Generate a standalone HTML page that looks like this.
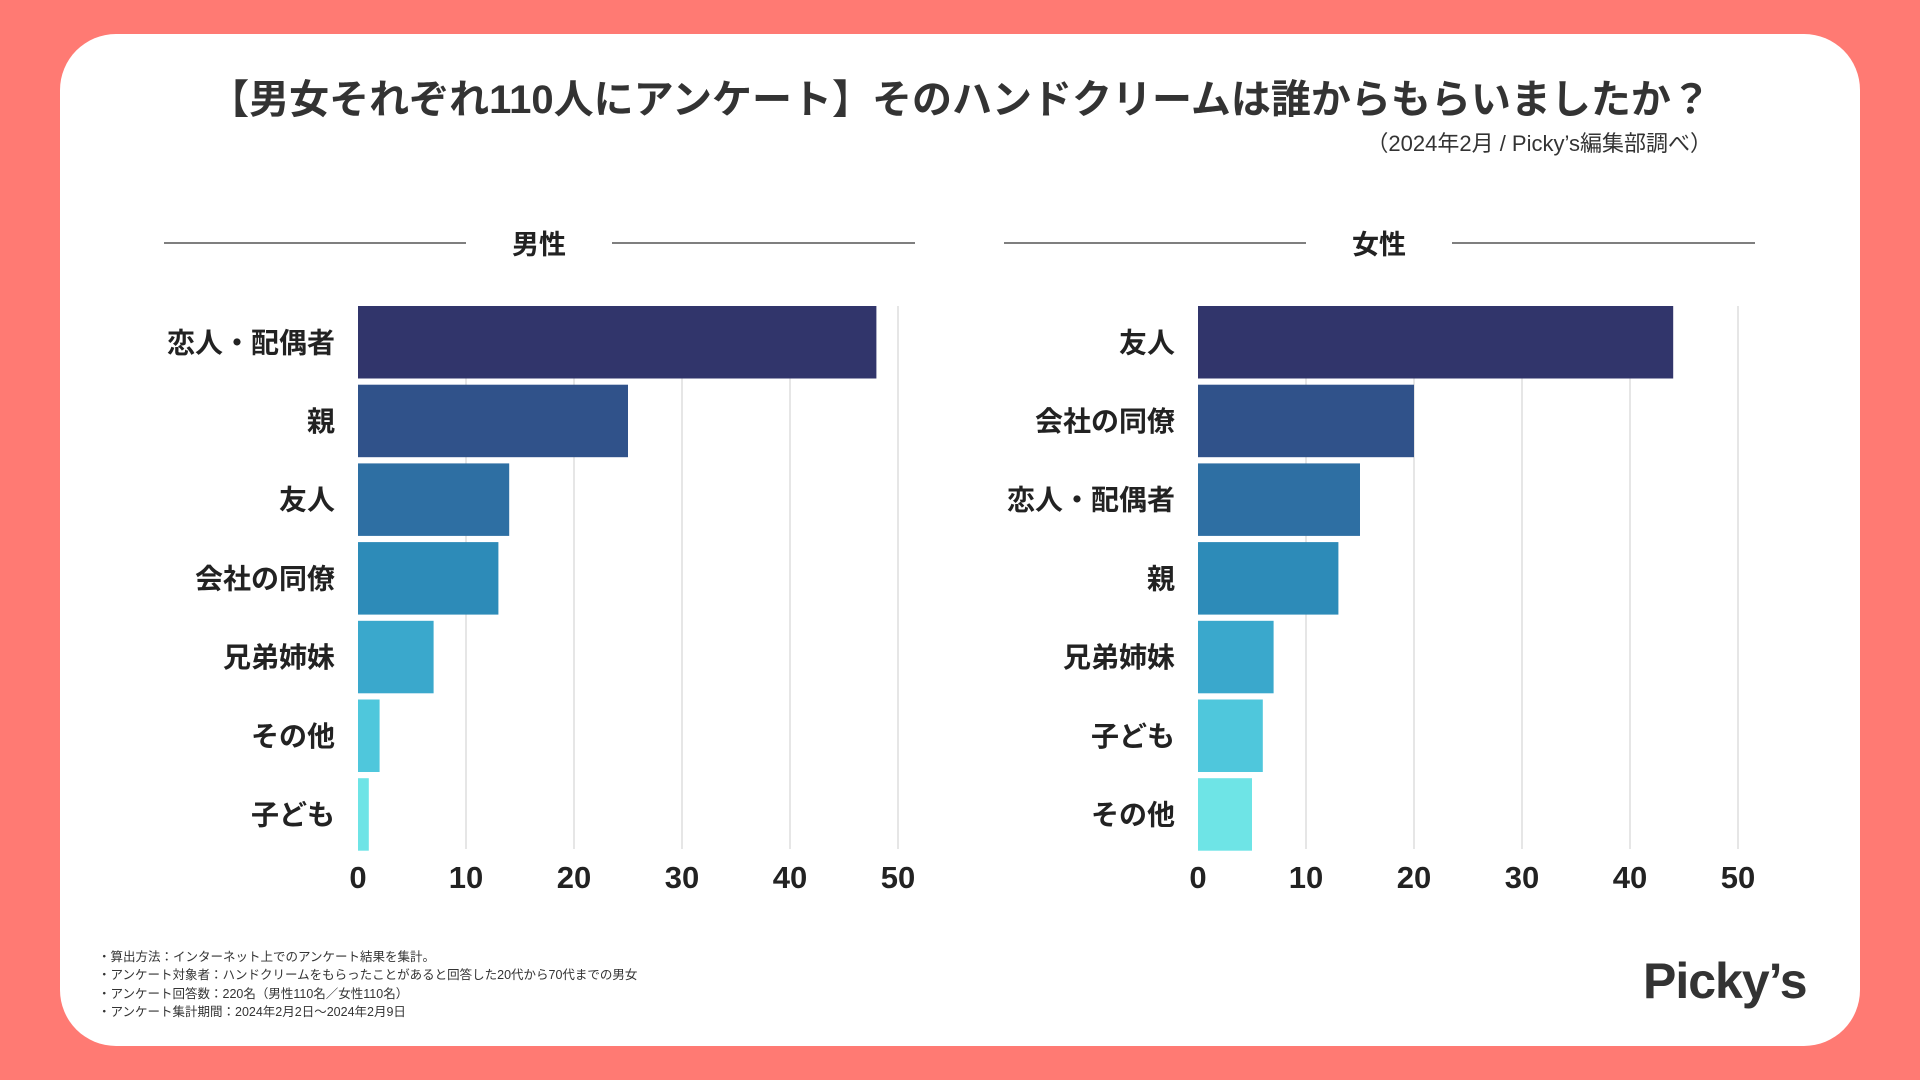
<!DOCTYPE html>
<html><head><meta charset="utf-8">
<style>
body{margin:0;width:1920px;height:1080px;background:#ff7a73;overflow:hidden;font-family:"Liberation Sans","Noto Sans CJK JP",sans-serif;color:#333;}
#card{position:absolute;left:60px;top:34px;width:1800px;height:1012px;background:#fff;border-radius:56px;}
.abs{position:absolute;}
</style></head>
<body>
<div id="card"></div>
<div class="abs" style="left:0;width:1920px;top:67px;text-align:center;font-size:40px;font-weight:bold;">【男女それぞれ110人にアンケート】そのハンドクリームは誰からもらいましたか？</div>
<div class="abs" style="right:208px;top:126px;font-size:22px;">（2024年2月 / Picky’s編集部調べ）</div>
<svg class="abs" style="left:0;top:0" width="1920" height="1080" id="chart"></svg>
<div class="abs" style="left:98px;top:948px;font-size:12.5px;line-height:18.3px;">
・算出方法：インターネット上でのアンケート結果を集計。<br>
・アンケート対象者：ハンドクリームをもらったことがあると回答した20代から70代までの男女<br>
・アンケート回答数：220名（男性110名／女性110名）<br>
・アンケート集計期間：2024年2月2日〜2024年2月9日</div>
<div class="abs" style="left:1643px;top:952px;font-size:50px;font-weight:bold;color:#333;letter-spacing:-1px;">Picky’s</div>
<script>
const maleCategories=["恋人・配偶者","親","友人","会社の同僚","兄弟姉妹","その他","子ども"];
const maleValues=[48,25,14,13,7,2,1];
const femaleCategories=["友人","会社の同僚","恋人・配偶者","親","兄弟姉妹","子ども","その他"];
const femaleValues=[44,20,15,13,7,6,5];
const ticks=[0,10,20,30,40,50];
const colors=["#31356b","#30528a","#2e6fa3","#2d8bb8","#3aa8cc","#4fc7dc","#6ee4e6"];
const svg=document.getElementById('chart');
const NS="http://www.w3.org/2000/svg";
function mk(t,a){const e=document.createElementNS(NS,t);for(const k in a)e.setAttribute(k,a[k]);svg.appendChild(e);return e;}
function panel(x0,x50,title,cats,vals,px){
  const sx=v=>x0+(v/50)*(x50-x0);
  const top=306,pitch=78.7,bh=72.5;
  let l=mk('line',{x1:px,x2:px+302,y1:243,y2:243,stroke:'#555','stroke-width':1.5});
  
  
  l=mk('line',{x1:px+448,x2:px+751,y1:243,y2:243,stroke:'#555','stroke-width':1.5});
  
  
  const h=mk('text',{x:px+375,y:254,'text-anchor':'middle','font-size':27,'font-weight':'bold',fill:'#222'});
  h.textContent=title;
  
  
  ticks.forEach(t=>{
    if(t>0){const g=mk('line',{x1:sx(t),x2:sx(t),y1:top,y2:849,stroke:'#dddddd','stroke-width':1.5});
    
    }
    const tl=mk('text',{x:sx(t),y:888,'text-anchor':'middle','font-size':31,'font-weight':'bold',fill:'#222'});
    tl.textContent=t;
    
    
  });
  cats.forEach((c,i)=>{
    const y=top+i*pitch;
    const r=mk('rect',{x:x0,y:y,width:sx(vals[i])-x0,height:bh,fill:colors[i]});
    
    
    const t=mk('text',{x:x0-23,y:y+bh/2+10,'text-anchor':'end','font-size':28,'font-weight':'bold',fill:'#222'});
    t.textContent=c;
    
    
  });
}
panel(358,898,"男性",maleCategories,maleValues,164);
panel(1198,1738,"女性",femaleCategories,femaleValues,1004);
</script>
</body></html>
